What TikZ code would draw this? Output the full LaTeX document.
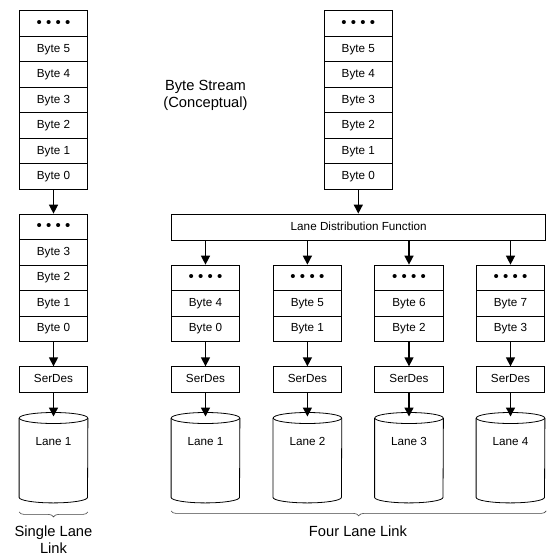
\documentclass[tikz,border=0pt]{standalone}
\usepackage{fontspec}
\setmainfont{Liberation Sans}
\usetikzlibrary{arrows.meta,calc,decorations.pathreplacing}
\tikzset{
  cell/.style={draw, line width=0.8pt, minimum width=68.4pt, minimum height=25.5pt, inner sep=0pt,
    text height=8.5pt, text depth=2.3pt, font=\fontsize{11.7}{14}\selectfont},
  flow/.style={line width=1.4pt, -{Triangle[length=9pt,width=9pt]}},
  big/.style={font=\fontsize{14.7}{17}\selectfont, align=center, inner sep=0pt},
  lanetxt/.style={font=\fontsize{11.7}{14}\selectfont, inner sep=0pt},
  cylbody/.style={minimum width=68.4pt, minimum height=90pt, inner sep=0pt},
  cylline/.style={line width=0.8pt},
  bracestyle/.style={decorate, decoration={brace,mirror,amplitude=5pt}, line width=0.6pt, black!75},
}
\newcommand\fourdots{{\fontsize{15}{15}\selectfont\raisebox{-0.8pt}{\textbullet\hspace{4.3pt}\textbullet\hspace{4.3pt}\textbullet\hspace{4.3pt}\textbullet}}}
\begin{document}
\begin{tikzpicture}[x=1pt,y=-1pt]
\useasboundingbox (0,0) rectangle (554,560);

% left conceptual stack
\foreach \t/\y [count=\i] in {\fourdots/23.5, Byte 5/49, Byte 4/74.5, Byte 3/100, Byte 2/125.5, Byte 1/151, Byte 0/176.5}
  \node[cell] (la\i) at (53.5,\y) {\t};
% right conceptual stack
\foreach \t/\y [count=\i] in {\fourdots/23.5, Byte 5/49, Byte 4/74.5, Byte 3/100, Byte 2/125.5, Byte 1/151, Byte 0/176.5}
  \node[cell] (ra\i) at (358.3,\y) {\t};

\node[big] (bs) at (205.5,95.5) {Byte Stream\\(Conceptual)};

% single lane stack
\foreach \t/\y [count=\i] in {\fourdots/226.8, Byte 3/252.3, Byte 2/277.8, Byte 1/303.3, Byte 0/328.8}
  \node[cell] (lb\i) at (53.5,\y) {\t};

% lane distribution
\node[cell, minimum width=374pt, minimum height=26pt] (ldf) at (358.7,227) {Lane Distribution Function};

% single lane serdes and cylinder
\node[cell] (sd0) at (53.5,379.5) {SerDes};
\node[cylbody] (cy0) at (53.5,457.7) {};

% four lanes
\foreach \x [count=\k] in {205.5,307.4,409,510.5} {
  \pgfmathtruncatemacro{\hi}{\k+3}
  \pgfmathtruncatemacro{\lo}{\k-1}
  \node[cell] (s\k a) at (\x,277.8) {\fourdots};
  \node[cell] (s\k b) at (\x,303.3) {Byte \hi};
  \node[cell] (s\k c) at (\x,328.8) {Byte \lo};
  \node[cell] (sd\k) at (\x,379.5) {SerDes};
  \node[cylbody] (cy\k) at (\x,457.7) {};
}

% cylinders
\foreach \c/\t in {0/Lane 1, 1/Lane 1, 2/Lane 2, 3/Lane 3, 4/Lane 4} {
  \draw[cylline] ($(cy\c.north west)+(0pt,-5.5pt)$) -- ($(cy\c.south west)+(0pt,5.5pt)$)
     arc[start angle=180, end angle=360, x radius=34.2pt, y radius=5.5pt]
     -- ($(cy\c.north east)+(0pt,-5.5pt)$);
  \draw[cylline] ($(cy\c.north)+(0pt,-5.5pt)$) ellipse[x radius=34.2pt, y radius=5.5pt];
  \node[lanetxt] (lt\c) at ($(cy\c.north)+(0pt,-29pt)$) {\t};
}

% arrows
\draw[flow] (la7.south) -- (lb1.north);
\draw[flow] (lb5.south) -- (sd0.north);
\draw[flow] (sd0.south) -- ($(cy0.north)+(0pt,-4pt)$);
\draw[flow] (ra7.south) -- (ra7.south |- ldf.north);
\foreach \k in {1,2,3,4} {
  \draw[flow] (s\k a.north |- ldf.south) -- (s\k a.north);
  \draw[flow] (s\k c.south) -- (sd\k.north);
  \draw[flow] (sd\k.south) -- ($(cy\k.north)+(0pt,-4pt)$);
}

% braces
\draw[bracestyle] ($(cy0.south west)+(0pt,-9pt)$) -- ($(cy0.south east)+(0pt,-9pt)$);
\draw[bracestyle] ($(cy1.south west)+(0pt,-8pt)$) -- ($(cy4.south east)+(1.3pt,-8pt)$);

\node[big] (sll) at (53.5,540) {Single Lane\\Link};
\node[big] (fll) at (358,531.7) {Four Lane Link};
\end{tikzpicture}
\end{document}
